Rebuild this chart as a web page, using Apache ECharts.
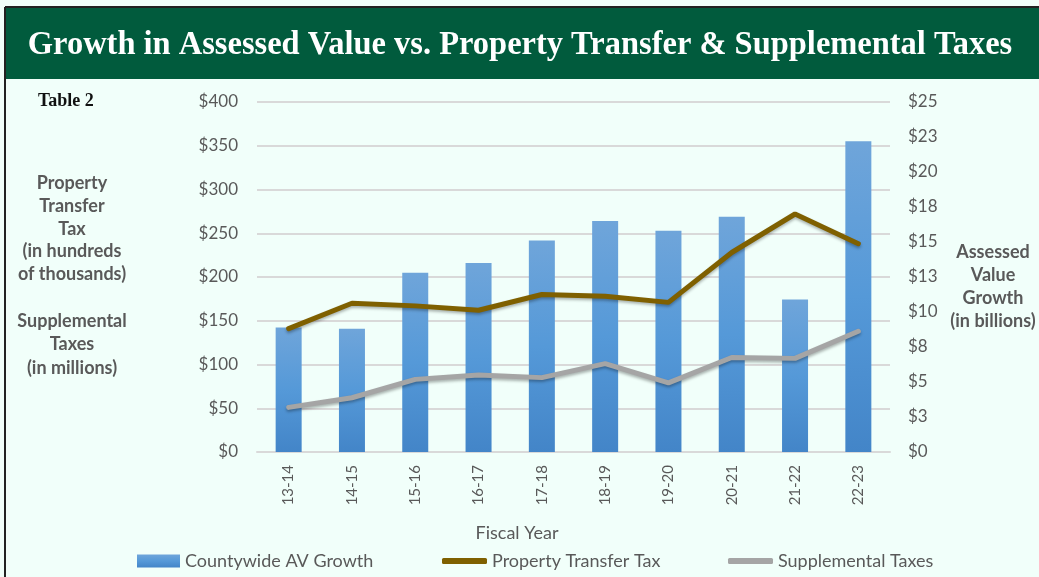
<!DOCTYPE html>
<html>
<head>
<meta charset="utf-8">
<script src="https://cdn.jsdelivr.net/npm/echarts@6/dist/echarts.min.js"></script>
<style>
  html, body { margin: 0; padding: 0; background: #fff; }
  #chart { width: 1039px; height: 577px; }
</style>
</head>
<body>
<div id="chart"></div>
<script>
// fiscal years
var years = ["13-14", "14-15", "15-16", "16-17", "17-18", "18-19", "19-20", "20-21", "21-22", "22-23"];
// countywide AV growth, billions (right axis)
var avGrowth = [8.9, 8.8, 12.8, 13.5, 15.1, 16.5, 15.8, 16.8, 10.9, 22.2];
// property transfer tax, hundreds of thousands (left axis)
var transferTax = [141, 170, 167, 162, 180, 178, 171, 228, 272, 238];
// supplemental taxes, millions (left axis)
var supplemental = [51, 62, 83, 88, 85, 101, 79, 108, 107, 138];

var gray = "#595959";
var font = "Lato";

var myChart = echarts.init(document.getElementById("chart"));
myChart.setOption({
  backgroundColor: "#f1fffa",
  textStyle: { fontFamily: font },
  graphic: [
    // title band + frame
    { type: "rect", shape: { x: 5, y: 7, width: 1034, height: 72 }, style: { fill: "#015b3d" } },
    { type: "line", shape: { x1: 5, y1: 7, x2: 1039, y2: 7 }, style: { stroke: "#222", lineWidth: 2 } },
    { type: "line", shape: { x1: 5, y1: 7, x2: 5, y2: 577 }, style: { stroke: "#222", lineWidth: 2 } },
    {
      type: "text", x: 520, y: 45, scaleX: 0.955,
      style: {
        text: "Growth in Assessed Value vs. Property Transfer & Supplemental Taxes",
        font: "bold 34px 'Liberation Serif'", fill: "#fff", align: "center", verticalAlign: "middle"
      }
    },
    {
      type: "text", x: 38, y: 101,
      style: { text: "Table 2", font: "bold 18px 'Liberation Serif'", fill: "#111", verticalAlign: "middle" }
    },
    // left axis title
    {
      type: "text", x: 72, y: 172,
      style: {
        text: "Property\nTransfer\nTax\n(in hundreds\nof thousands)",
        font: "bold 18px " + font, fill: gray, align: "center", lineHeight: 22.7
      }
    },
    {
      type: "text", x: 72, y: 309,
      style: {
        text: "Supplemental\nTaxes\n(in millions)",
        font: "bold 18px " + font, fill: gray, align: "center", lineHeight: 23.5
      }
    },
    // right axis title
    {
      type: "text", x: 993, y: 241,
      style: {
        text: "Assessed\nValue\nGrowth\n(in billions)",
        font: "bold 18px " + font, fill: gray, align: "center", lineHeight: 23
      }
    },
    {
      type: "text", x: 517, y: 533,
      style: { text: "Fiscal Year", font: "18px " + font, fill: gray, align: "center", verticalAlign: "middle" }
    }
  ],
  grid: { left: 257, right: 149, top: 102, bottom: 125 },
  legend: [
    {
      data: ["Countywide AV Growth"], left: 137, top: 552, padding: 0,
      icon: "rect", itemWidth: 43, itemHeight: 13,
      textStyle: { fontSize: 18, color: gray, fontFamily: font }
    },
    {
      data: ["Property Transfer Tax"], left: 442, top: 552, padding: 0,
      icon: "roundRect", itemWidth: 45, itemHeight: 6,
      textStyle: { fontSize: 18, color: gray, fontFamily: font }
    },
    {
      data: ["Supplemental Taxes"], left: 728, top: 552, padding: 0,
      icon: "roundRect", itemWidth: 45, itemHeight: 6,
      textStyle: { fontSize: 18, color: gray, fontFamily: font }
    }
  ],
  xAxis: {
    type: "category",
    data: years,
    axisLine: { lineStyle: { color: "#d9d9d9", width: 2 } },
    axisTick: { show: false },
    axisLabel: { rotate: 90, margin: 13, fontSize: 15, color: gray, fontFamily: font }
  },
  yAxis: [
    {
      type: "value", min: 0, max: 400, interval: 50,
      axisLabel: { formatter: function (v) { return "$" + v; }, margin: 19, fontSize: 17, color: gray, fontFamily: font },
      splitLine: { lineStyle: { color: "#d9d9d9", width: 2 } },
      axisLine: { show: false }, axisTick: { show: false }
    },
    {
      type: "value", min: 0, max: 25, interval: 2.5,
      axisLabel: { formatter: function (v) { return "$" + Math.round(v); }, margin: 18, fontSize: 17, color: gray, fontFamily: font },
      splitLine: { show: false },
      axisLine: { show: false }, axisTick: { show: false }
    }
  ],
  series: [
    {
      name: "Countywide AV Growth",
      type: "bar",
      yAxisIndex: 1,
      barWidth: 26,
      data: avGrowth,
      itemStyle: {
        color: new echarts.graphic.LinearGradient(0, 0, 0, 1, [
          { offset: 0, color: "#6fa5da" },
          { offset: 0.5, color: "#5599d8" },
          { offset: 1, color: "#4385c8" }
        ]),
        shadowColor: "rgba(0,0,0,0.35)",
        shadowBlur: 3,
        shadowOffsetX: 2,
        shadowOffsetY: 1
      }
    },
    {
      name: "Property Transfer Tax",
      type: "line",
      yAxisIndex: 0,
      data: transferTax,
      symbol: "none",
      itemStyle: { color: "#7f6000" },
      lineStyle: { color: "#7f6000", width: 5, cap: "round", shadowColor: "rgba(0,0,0,0.3)", shadowBlur: 3, shadowOffsetY: 2 }
    },
    {
      name: "Supplemental Taxes",
      type: "line",
      yAxisIndex: 0,
      data: supplemental,
      symbol: "none",
      itemStyle: { color: "#a5a5a5" },
      lineStyle: { color: "#a5a5a5", width: 5, cap: "round", shadowColor: "rgba(0,0,0,0.3)", shadowBlur: 3, shadowOffsetY: 2 }
    }
  ]
});
</script>
</body>
</html>
